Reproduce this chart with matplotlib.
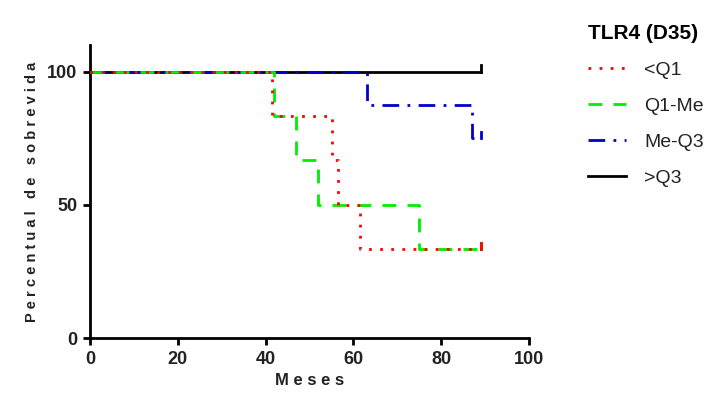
import numpy as np
import matplotlib
matplotlib.use("Agg")
import matplotlib.pyplot as plt
from matplotlib.lines import Line2D

plt.rcParams["font.family"] = ["Liberation Sans", "DejaVu Sans"]

# === Data (Kaplan-Meier steps) ===
labels = ["<Q1", "Q1-Me", "Me-Q3", ">Q3"]
colors = ["#ff0000", "#00ee00", "#0000cc", "#000000"]
styles = [(0, (1, 3)), (0, (5, 4)), (0, (6, 3, 1, 3)), "-"]

t_q1 = [0, 41.5, 55, 56.5, 61.5, 89]
s_q1 = [100, 83.3, 66.7, 50, 33.3, 33.3]
t_q1me = [0, 42, 47, 52, 75, 89]
s_q1me = [100, 83.3, 66.7, 50, 33.3, 33.3]
t_meq3 = [0, 63, 87, 89]
s_meq3 = [100, 87.5, 75, 75]
t_q3 = [0, 89]
s_q3 = [100, 100]

times = [t_q1, t_q1me, t_meq3, t_q3]
surv = [s_q1, s_q1me, s_meq3, s_q3]

fig = plt.figure(figsize=(7.17, 4.05), dpi=100)
ax = fig.add_axes([0.1255, 0.165, 0.6125, 0.724])

# draw black first so the coloured dashes sit on top of it
for i in reversed(range(len(times))):
    t, s, c, ls = times[i], surv[i], colors[i], styles[i]
    ax.step(t, s, where="post", color=c, linestyle=ls, linewidth=2, zorder=3 + (3 - i))
    # censor tick at the end
    ax.plot([t[-1], t[-1]], [s[-1], s[-1] + 2.5], color=c, linewidth=2, zorder=3 + (3 - i))

ax.set_xlim(0, 100)
ax.set_ylim(0, 110)
ax.set_xticks([0, 20, 40, 60, 80, 100])
ax.set_yticks([0, 50, 100])
for side in ["top", "right"]:
    ax.spines[side].set_visible(False)
for side in ["left", "bottom"]:
    ax.spines[side].set_linewidth(2)
ax.tick_params(direction="out", length=5, width=2, labelsize=13, labelcolor="#222222", pad=4)
for lab in ax.get_xticklabels() + ax.get_yticklabels():
    lab.set_fontweight("bold")

ax.set_xlabel("M e s e s", fontsize=12, fontweight="bold", color="#222222")
ax.set_ylabel("P e r c e n t u a l   d e   s o b r e v i d a", fontsize=10.5,
              fontweight="bold", color="#222222", labelpad=6)

handles = [Line2D([0], [0], color=c, linestyle=ls, linewidth=2) for c, ls in zip(colors, styles)]
leg = fig.legend(handles, labels, loc="upper left", bbox_to_anchor=(0.795, 0.985),
                 frameon=False, fontsize=14, title="TLR4 (D35)", handlelength=2.0,
                 handletextpad=0.9, labelspacing=0.95, alignment="left")
leg.get_title().set_fontsize(15)
leg.get_title().set_fontweight("bold")
for txt in leg.get_texts():
    txt.set_color("#222222")

fig.savefig("out.png", dpi=100)
